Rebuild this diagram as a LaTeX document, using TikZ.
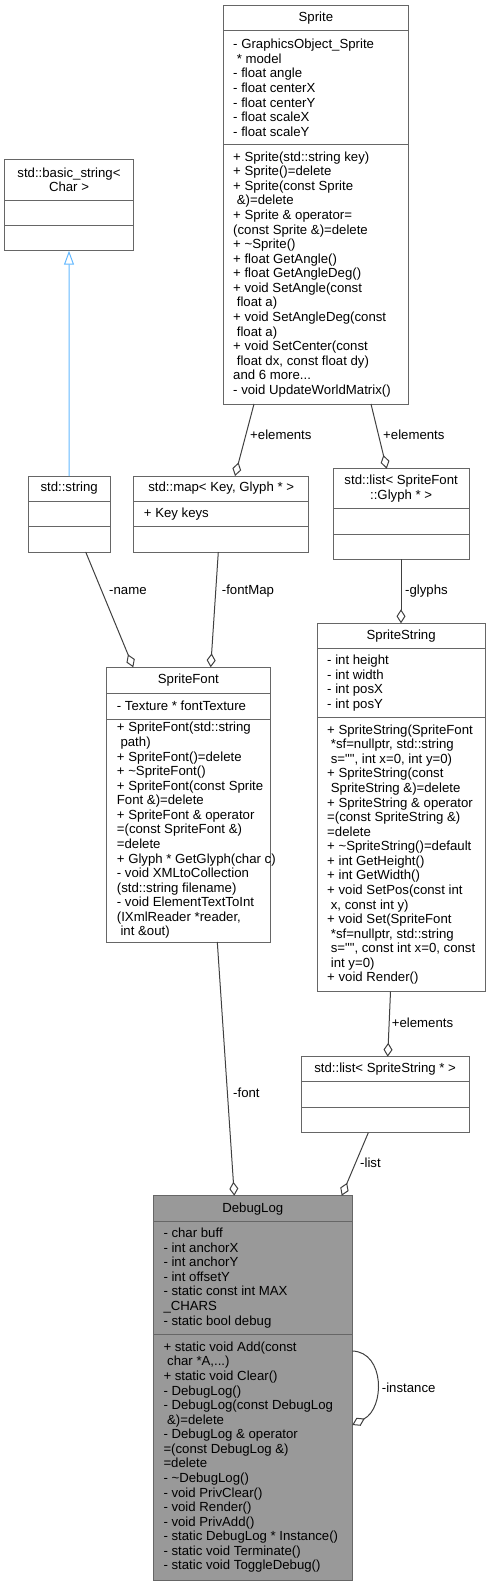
\documentclass[tikz,border=0pt]{standalone}
\usetikzlibrary{arrows.meta}
\font\umlfnt="Liberation Sans" at 13.2pt
\definecolor{boxc}{HTML}{666666}
\definecolor{edgec}{HTML}{404040}
\definecolor{inhc}{HTML}{63B8FF}
\definecolor{curfill}{HTML}{999999}
\tikzset{
  umlfont/.style={font={\umlfnt\baselineskip=14.57pt\relax}},
  frame/.style={draw=boxc, line width=1pt, inner sep=0pt, outer sep=0pt},
  divider/.style={draw=boxc, line width=1pt},
  ttl/.style={umlfont, align=center, inner sep=0pt},
  lst/.style={umlfont, align=left, inner sep=0pt, anchor=west},
  agg/.style={draw=edgec, line width=1pt, -{Diamond[open, length=14pt, width=9pt]}},
  inh/.style={draw=inhc, line width=1pt, -{Triangle[open, length=14pt, width=10pt]}},
  elabel/.style={umlfont, inner sep=0pt, anchor=west},
}
% name, left, top, right, bottom, div1, div2, fill, title
\newcommand\umlframe[9]{%
  \node[frame, fill=#8, minimum width={(#4-#2)*1pt}, minimum height={(#5-#3)*1pt}] (#1) at ({(#2+#4)/2},{(#3+#5)/2}) {};
  \draw[divider] (#1.west |- 0,#6) -- (#1.east |- 0,#6);
  \draw[divider] (#1.west |- 0,#7) -- (#1.east |- 0,#7);
  \node[ttl] (#1-t) at ({(#2+#4)/2},{(#3+#6)/2}) {#9};
}
% name, left, div1, div2, bottom, attrs, methods
\newcommand\umlmembers[7]{%
  \node[lst] (#1-a) at ({#2+10},{(#3+#4)/2}) {#6};
  \node[lst] (#1-m) at ({#2+10},{(#4+#5)/2}) {#7};
}
\begin{document}
\begin{tikzpicture}[x=1pt,y=-1pt]
\useasboundingbox (0,0) rectangle (491,1587);

\umlframe{sprite}{223}{5.7}{408.7}{404}{31}{144.7}{white}{Sprite}
\umlmembers{sprite}{223}{31}{144.7}{404}{- GraphicsObject\_Sprite\\\ * model\\- float angle\\- float centerX\\- float centerY\\- float scaleX\\- float scaleY}{+ Sprite(std::string key)\\+ Sprite()=delete\\+ Sprite(const Sprite\\\ \&)=delete\\+ Sprite \& operator=\\(const Sprite \&)=delete\\+ \textasciitilde Sprite()\\+ float GetAngle()\\+ float GetAngleDeg()\\+ void SetAngle(const\\\ float a)\\+ void SetAngleDeg(const\\\ float a)\\+ void SetCenter(const\\\ float dx, const float dy)\\and 6 more...\\- void UpdateWorldMatrix()}

\umlframe{bstr}{4.7}{159.3}{133.3}{250.7}{200}{225.3}{white}{std::basic\_string<\\Char >}

\umlframe{str}{28.3}{476}{110}{552}{501}{526.7}{white}{std::string}

\umlframe{map}{133.7}{476}{308.7}{552}{501}{526.7}{white}{std::map< Key, Glyph * >}
\node[lst] (map-a) at (143.7,513.8) {+ Key keys};

\umlframe{lglyph}{333}{468.7}{469.3}{559.3}{508.3}{534}{white}{std::list< SpriteFont\\::Glyph * >}

\umlframe{sstr}{317}{623.3}{485.3}{991.7}{648.3}{717.7}{white}{SpriteString}
\umlmembers{sstr}{317}{648.3}{717.7}{991.7}{- int height\\- int width\\- int posX\\- int posY}{+ SpriteString(SpriteFont\\\ *sf=nullptr, std::string\\\ s="", int x=0, int y=0)\\+ SpriteString(const\\\ SpriteString \&)=delete\\+ SpriteString \& operator\\=(const SpriteString \&)\\=delete\\+ \textasciitilde SpriteString()=default\\+ int GetHeight()\\+ int GetWidth()\\+ void SetPos(const int\\\ x, const int y)\\+ void Set(SpriteFont\\\ *sf=nullptr, std::string\\\ s="", const int x=0, const\\\ int y=0)\\+ void Render()}

\umlframe{sfont}{106.7}{667.3}{270}{942}{693.3}{719}{white}{SpriteFont}
\umlmembers{sfont}{106.7}{693.3}{719}{942}{- Texture * fontTexture}{+ SpriteFont(std::string\\\ path)\\+ SpriteFont()=delete\\+ \textasciitilde SpriteFont()\\+ SpriteFont(const Sprite\\Font \&)=delete\\+ SpriteFont \& operator\\=(const SpriteFont \&)\\=delete\\+ Glyph * GetGlyph(char c)\\- void XMLtoCollection\\(std::string filename)\\- void ElementTextToInt\\(IXmlReader *reader,\\\ int \&out)}

\umlframe{lss}{301}{1056.7}{469.3}{1132.7}{1081.7}{1107.3}{white}{std::list< SpriteString * >}

\umlframe{dlog}{153.3}{1195.7}{352.3}{1580}{1221.7}{1334.3}{curfill}{DebugLog}
\umlmembers{dlog}{153.3}{1221.7}{1334.3}{1580}{- char buff\\- int anchorX\\- int anchorY\\- int offsetY\\- static const int MAX\\\_CHARS\\- static bool debug}{+ static void Add(const\\\ char *A,...)\\+ static void Clear()\\- DebugLog()\\- DebugLog(const DebugLog\\\ \&)=delete\\- DebugLog \& operator\\=(const DebugLog \&)\\=delete\\- \textasciitilde DebugLog()\\- void PrivClear()\\- void Render()\\- void PrivAdd()\\- static DebugLog * Instance()\\- static void Terminate()\\- static void ToggleDebug()}

% connectors
\draw[inh] (str.north) -- (bstr.south);
\draw[agg] (sprite.south -| 254,0) -- (map.north -| 235,0);
\draw[agg] (sprite.south -| 371,0) -- (lglyph.north -| 386.7,0);
\draw[agg] (str.south -| 85.7,0) -- (sfont.north -| 133.3,0);
\draw[agg] (map.south -| 218.3,0) -- (sfont.north -| 210.7,0);
\draw[agg] (lglyph.south -| 401,0) -- (sstr.north -| 401,0);
\draw[agg] (sstr.south -| 390.5,0) -- (lss.north -| 387.7,0);
\draw[agg] (sfont.south -| 217.3,0) -- (dlog.north -| 234.3,0);
\draw[agg] (lss.south -| 368.3,0) -- (dlog.north -| 341.7,0);
\draw[agg] (dlog.east |- 0,1351) .. controls (385,1352) and (385,1408) .. (dlog.east |- 0,1425);

% labels
\node[elabel] (lb1) at (250,435) {+elements};
\node[elabel] (lb2) at (383,435) {+elements};
\node[elabel] (lb3) at (109,590.7) {-name};
\node[elabel] (lb4) at (221.7,590.7) {-fontMap};
\node[elabel] (lb5) at (405,591) {-glyphs};
\node[elabel] (lb6) at (391.7,1023) {+elements};
\node[elabel] (lb7) at (233,1093) {-font};
\node[elabel] (lb8) at (360,1163) {-list};
\node[elabel] (lb9) at (381.7,1388) {-instance};
\end{tikzpicture}
\end{document}
